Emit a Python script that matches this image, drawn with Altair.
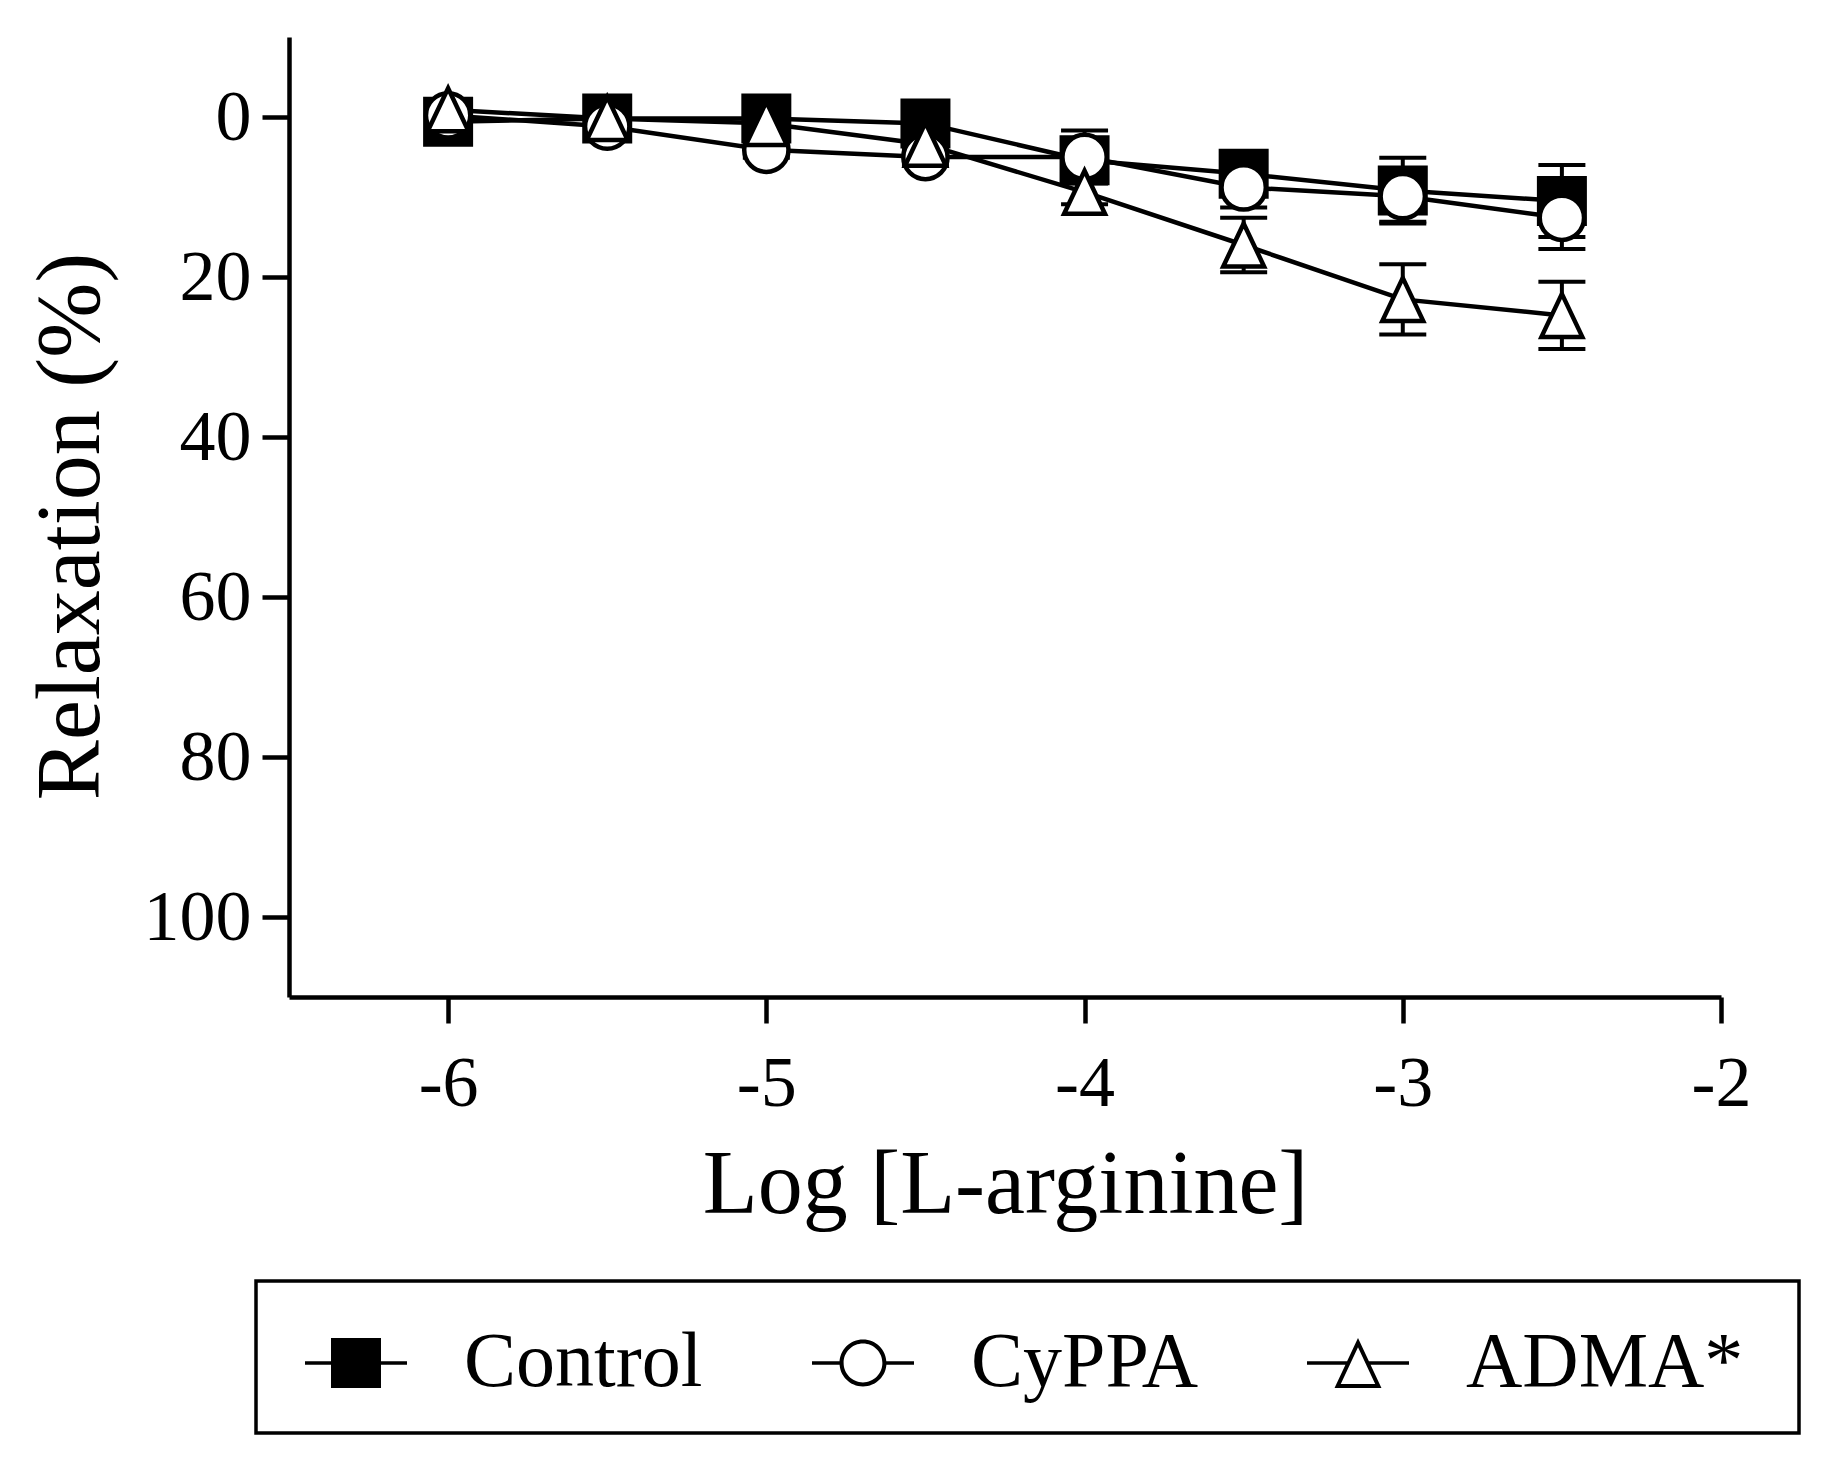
import altair as alt
import pandas as pd

# ---- data ----
log_conc = [-6, -5.5, -5, -4.5, -4, -3.5, -3, -2.5]
series_names = ["Control", "CyPPA", "ADMA*"]

control_mean = [0.6, 0.2, 0.2, 0.8, 5.4, 7.1, 9.2, 10.5]
control_sem = [1.0, 0.8, 0.8, 1.0, 2.0, 2.5, 4.1, 4.5]
cyppa_mean = [-0.2, 1.2, 4.1, 5.0, 5.0, 8.8, 9.9, 12.6]
cyppa_sem = [0.8, 0.8, 1.0, 1.0, 3.3, 2.5, 3.2, 3.9]
adma_mean = [-0.9, 0.2, 0.8, 3.4, 9.4, 16.0, 22.8, 24.8]
adma_sem = [1.0, 0.8, 1.0, 1.2, 1.5, 3.4, 4.4, 4.2]

x_ticks = [-6, -5, -4, -3, -2]
y_ticks = [0, 20, 40, 60, 80, 100]

rows = []
for name, means, sems in zip(series_names,
                             [control_mean, cyppa_mean, adma_mean],
                             [control_sem, cyppa_sem, adma_sem]):
    for xv, m, s in zip(log_conc, means, sems):
        rows.append({"series": name, "x": xv, "mean": m, "lo": m - s, "hi": m + s})
df = pd.DataFrame(rows)

FONT = "Liberation Serif"
SW = 4.5     # lines, markers, axes
EW = 4       # error bars

tri_path = "M0,-1L-0.95,1L0.95,1Z"
# legend glyphs: marker on a short line, drawn as filled outlines (holes reversed)
leg_square = ("M-1,-0.034H1V0.034H-1Z"
              "M-0.49,-0.49H0.49V0.49H-0.49Z")
leg_circle = ("M-1,-0.034H-0.44V0.034H-1Z"
              "M0.44,-0.034H1V0.034H0.44Z"
              "M-0.46,0A0.46,0.46,0,1,1,0.46,0A0.46,0.46,0,1,1,-0.46,0Z"
              "M-0.38,0A0.38,0.38,0,1,0,0.38,0A0.38,0.38,0,1,0,-0.38,0Z")
leg_tri = ("M-1,-0.034H-0.19V0.034H-1Z"
           "M0.19,-0.034H1V0.034H0.19Z"
           "M0,-0.49L0.46,0.49L-0.46,0.49Z"
           "M0,-0.3065L-0.3375,0.412L0.3375,0.412Z")

xenc = alt.X("x:Q",
             scale=alt.Scale(domain=[-6.5, -2], nice=False, zero=False),
             axis=alt.Axis(title="Log [L-arginine]", values=x_ticks,
                           labelExpr="'' + datum.value", labelFlush=False,
                           labelPadding=25, tickSize=26,
                           titleY=215, titleBaseline="alphabetic"))
yscale = alt.Scale(domain=[-10, 110], reverse=True, nice=False, zero=False)

base = alt.Chart(df)

rules = base.mark_rule(color="black", strokeWidth=EW).encode(
    x=xenc,
    y=alt.Y("lo:Q", scale=yscale,
            axis=alt.Axis(title="Relaxation (%)", values=y_ticks,
                          labelPadding=11, tickSize=27, labelFlush=False,
                          titleX=-191, titleY=489, titleBaseline="alphabetic",
                          titleAngle=-90)),
    y2="hi:Q",
    detail="series:N",
)
cap_lo = base.mark_tick(orient="horizontal", size=47, thickness=EW,
                        color="black", opacity=1).encode(x="x:Q", y="lo:Q")
cap_hi = base.mark_tick(orient="horizontal", size=47, thickness=EW,
                        color="black", opacity=1).encode(x="x:Q", y="hi:Q")

lines = base.mark_line(color="black", strokeWidth=SW).encode(
    x="x:Q", y="mean:Q", detail="series:N", order="x:Q")

points = base.mark_point(filled=False, stroke="black", strokeWidth=SW,
                         opacity=1, fillOpacity=1).encode(
    x="x:Q",
    y="mean:Q",
    shape=alt.Shape("series:N",
                    scale=alt.Scale(domain=series_names,
                                    range=["square", "circle", tri_path]),
                    legend=None),
    fill=alt.Fill("series:N",
                  scale=alt.Scale(domain=series_names,
                                  range=["black", "white", "white"]),
                  legend=None),
    size=alt.Size("series:N",
                  scale=alt.Scale(domain=series_names,
                                  range=[2070, 1850, 2116]),
                  legend=None),
)

legend_layer = base.transform_filter("false").mark_point(
    filled=True, color="black", strokeWidth=0, opacity=1, size=10404
).encode(
    x="x:Q",
    y="mean:Q",
    shape=alt.Shape("series:N",
                    scale=alt.Scale(domain=series_names,
                                    range=[leg_square, leg_circle, leg_tri]),
                    legend=alt.Legend(title="\u00a0", titleOrient="right",
                                      titlePadding=25, titleFontSize=8,
                                      orient="none",
                                      legendX=-33, legendY=1244,
                                      direction="horizontal",
                                      symbolSize=10404,
                                      symbolStrokeWidth=0,
                                      symbolFillColor="black",
                                      symbolOffset=18,
                                      labelFont=FONT, labelFontSize=78,
                                      labelColor="black", labelLimit=1000,
                                      labelOffset=57, columnPadding=91,
                                      padding=31, strokeColor="black")),
)

chart = alt.layer(rules, cap_lo, cap_hi, lines, points, legend_layer).resolve_scale(
    shape="independent"
).properties(
    width=1432,
    height=960,
    autosize=alt.AutoSizeParams(type="none"),
    padding={"left": 281, "top": 29, "right": 107, "bottom": 461},
).configure_view(stroke=None).configure_axis(
    grid=False,
    domainColor="black", domainWidth=SW,
    tickColor="black", tickWidth=SW,
    labelFont=FONT, labelFontSize=72, labelColor="black",
    titleFont=FONT, titleFontSize=90, titleFontWeight="normal", titleColor="black",
).configure_legend(strokeWidth=3.5)

chart.save("out.html", embed_options={"renderer": "svg", "actions": False})
